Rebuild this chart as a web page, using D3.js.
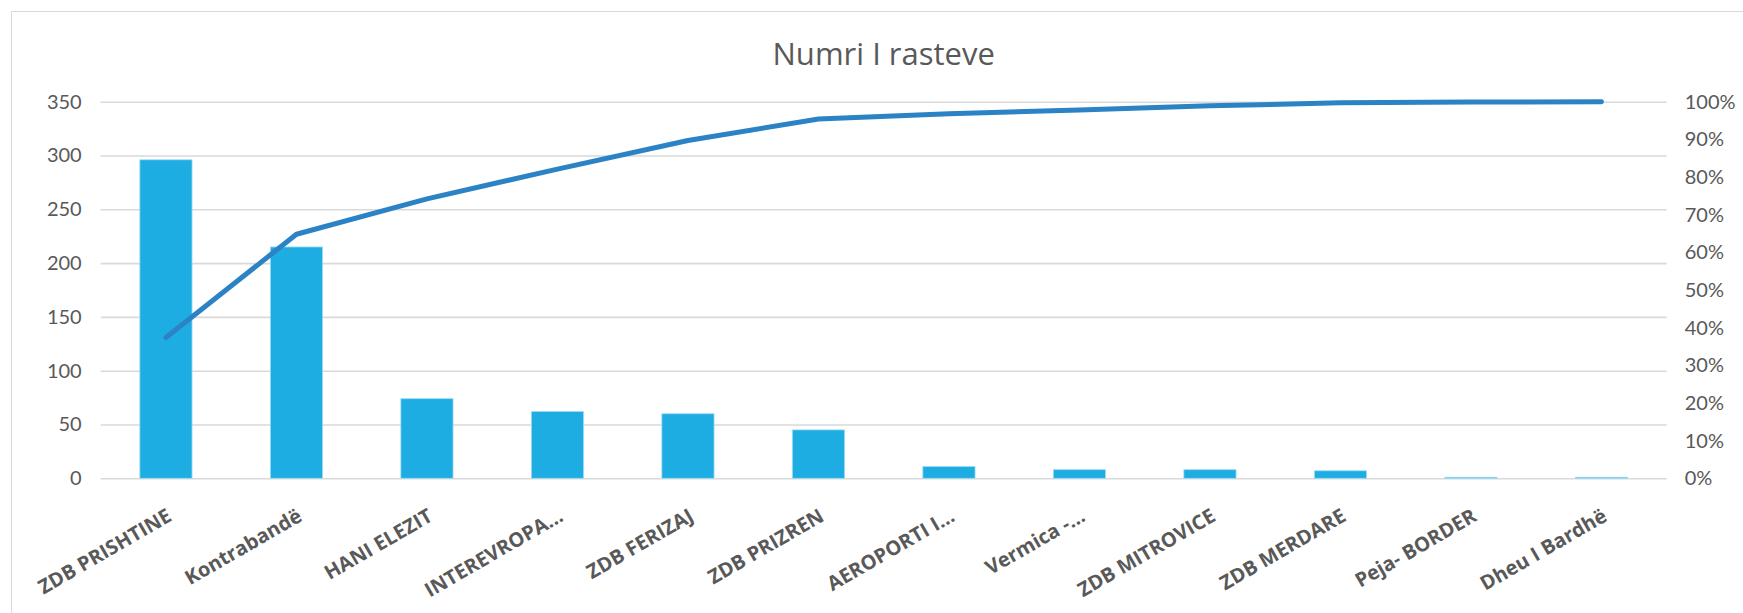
<!DOCTYPE html>
<html>
<head>
<meta charset="utf-8">
<script src="https://cdnjs.cloudflare.com/ajax/libs/d3/7.8.5/d3.min.js"></script>
<style>
  html, body { margin: 0; padding: 0; background: #fff; }
  svg { display: block; }
</style>
</head>
<body>
<svg id="chart"></svg>
<script>
// data
const categories = ["ZDB PRISHTINE", "Kontrabandë", "HANI ELEZIT", "INTEREVROPA…", "ZDB FERIZAJ",
  "ZDB PRIZREN", "AEROPORTI I…", "Vermica -…", "ZDB MITROVICE", "ZDB MERDARE", "Peja- BORDER", "Dheu I Bardhë"];
const cases = [296, 215, 74, 62, 60, 45, 11, 8, 8, 7, 1, 1];
const cumulative = [0.374, 0.648, 0.742, 0.821, 0.897, 0.954, 0.968, 0.978, 0.989, 0.997, 0.999, 1.0];
const leftTicks = [0, 50, 100, 150, 200, 250, 300, 350];
const rightTicks = [0, 0.1, 0.2, 0.3, 0.4, 0.5, 0.6, 0.7, 0.8, 0.9, 1.0];
const title = "Numri I rasteve";

let svgWidth = 1743, svgHeight = 613;
let plot = { left: 100.7, right: 1666.7, top: 101.7, bottom: 478.3 };

let svg = d3.select("#chart")
  .attr("width", svgWidth)
  .attr("height", svgHeight);

// chart frame
svg.append("rect")
  .attr("x", 11.5).attr("y", 11.5)
  .attr("width", 1760).attr("height", 640)
  .attr("fill", "#fff")
  .attr("stroke", "#d9d9d9")
  .attr("stroke-width", 1);

let x = d3.scaleBand()
  .domain(categories)
  .range([plot.left, plot.right])
  .paddingInner(0.6)
  .paddingOuter(0.3);

let y = d3.scaleLinear().domain([0, 350]).range([plot.bottom, plot.top]);
let y2 = d3.scaleLinear().domain([0, 1]).range([plot.bottom, plot.top]);

// gridlines
svg.append("g")
  .attr("transform", "translate(" + plot.left + ",0)")
  .call(d3.axisLeft(y).tickValues(leftTicks).tickSize(-(plot.right - plot.left)).tickFormat(""))
  .call(g => g.select(".domain").remove())
  .call(g => g.selectAll("line").attr("stroke", "#d9d9d9").attr("stroke-width", 1.6));

// left axis labels
svg.append("g")
  .attr("transform", "translate(" + plot.left + ",0)")
  .call(d3.axisLeft(y).tickValues(leftTicks).tickSize(0).tickPadding(19))
  .call(g => g.select(".domain").remove())
  .call(g => g.selectAll("text")
    .attr("fill", "#595959")
    .style("font-family", "Lato, 'Open Sans', sans-serif")
    .style("font-size", "20px"));

// right axis labels
svg.append("g")
  .attr("transform", "translate(" + plot.right + ",0)")
  .call(d3.axisRight(y2).tickValues(rightTicks).tickSize(0).tickPadding(18).tickFormat(d3.format(".0%")))
  .call(g => g.select(".domain").remove())
  .call(g => g.selectAll("text")
    .attr("fill", "#595959")
    .style("font-family", "Lato, 'Open Sans', sans-serif")
    .style("font-size", "20px"));

// bars
svg.append("g")
  .selectAll("rect")
  .data(cases)
  .join("rect")
  .attr("x", (d, i) => x(categories[i]))
  .attr("width", x.bandwidth())
  .attr("y", d => y(d))
  .attr("height", d => y(0) - y(d))
  .attr("fill", "#1eade3")
  .attr("stroke", "#9edcf4")
  .attr("stroke-width", 0.8);

// cumulative line
let line = d3.line()
  .x((d, i) => x(categories[i]) + x.bandwidth() / 2)
  .y(d => y2(d));

svg.append("path")
  .datum(cumulative)
  .attr("fill", "none")
  .attr("stroke", "#2b83c6")
  .attr("stroke-width", 5)
  .attr("stroke-linejoin", "round")
  .attr("stroke-linecap", "round")
  .attr("d", line);

// category labels, rotated
svg.append("g")
  .selectAll("text")
  .data(categories)
  .join("text")
  .attr("transform", d => "translate(" + (x(d) + x.bandwidth() / 2 + 7) + ",520) rotate(-30)")
  .attr("text-anchor", "end")
  .attr("fill", "#595959")
  .style("font-family", "'Open Sans', sans-serif")
  .style("font-weight", "bold")
  .style("font-size", "20px")
  .text(d => d);

// title
svg.append("text")
  .attr("x", (plot.left + plot.right) / 2)
  .attr("y", 65)
  .attr("text-anchor", "middle")
  .attr("fill", "#595959")
  .style("font-family", "'Open Sans', sans-serif")
  .style("font-size", "31px")
  .text(title);
</script>
</body>
</html>
